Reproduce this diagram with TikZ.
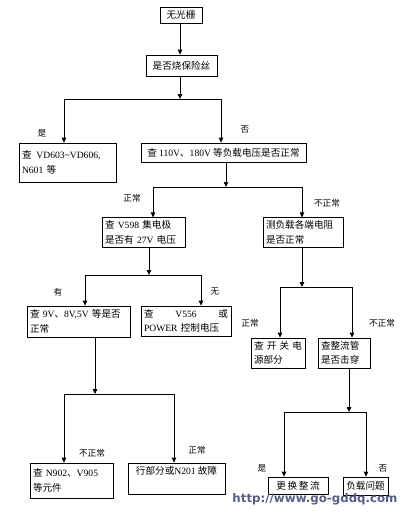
\documentclass[tikz,border=0pt]{standalone}
\usepackage{fontspec}
\setmainfont{Noto Sans CJK SC}
\newfontfamily\tm{Liberation Serif}
\newfontfamily\wm{DejaVu Sans}
\usetikzlibrary{arrows.meta}
\definecolor{wmcol}{RGB}{85,95,135}
\begin{document}
\begin{tikzpicture}[x=1pt,y=-1pt,
  box/.style={draw,line width=0.8pt,rectangle,inner sep=3pt,align=left,
    font=\fontsize{9.6}{14.5}\selectfont},
  lbl/.style={font=\fontsize{8.6}{10}\selectfont,inner sep=0pt},
  arr/.style={line width=0.8pt,-{Triangle[length=5pt,width=4.5pt]}},
  ln/.style={line width=0.8pt}]
\useasboundingbox (0,0) rectangle (409,514);
\fill[white] (0,0) rectangle (409,514);
% boxes
\node[box,minimum width=42pt,minimum height=16pt,align=center] (b1) at (181,15) {无光栅};
\node[box,minimum width=71pt,minimum height=21pt,align=center] (b2) at (181.5,65.5) {是否烧保险丝};
\node[box,minimum width=97pt,minimum height=39pt,text width=91pt] (b3) at (67.5,162.5) {查\enspace{\tm VD603\textasciitilde VD606,}\\{\tm N601} 等};
\node[box,minimum width=165pt,minimum height=19pt,align=center] (b4) at (223.5,152.5) {查 {\tm 110V}、{\tm 180V} 等负载电压是否正常};
\node[box,minimum width=83pt,minimum height=29pt,text width=77pt] (b5) at (143.5,232.5) {查 {\tm V598} 集电极\\是否有 {\tm 27V} 电压};
\node[box,minimum width=80pt,minimum height=29pt,text width=74pt] (b6) at (303,232.5) {测负载各端电阻\\是否正常};
\node[box,minimum width=103pt,minimum height=31pt,text width=97pt] (b7) at (78.5,321.5) {查 {\tm 9V}、{\tm 8V,5V} 等是否\\正常};
\node[box,minimum width=90pt,minimum height=30pt,text width=84pt] (b8) at (186,321) {查\hfill{\tm V556}\hfill 或\\{\tm POWER} 控制电压};
\node[box,minimum width=54pt,minimum height=30pt,text width=48pt] (b9) at (278,353) {查\hfill 开\hfill 关\hfill 电\\源部分};
\node[box,minimum width=52pt,minimum height=30pt,text width=46pt] (b10) at (344,353) {查整流管\\是否击穿};
\node[box,minimum width=83pt,minimum height=35pt,text width=77pt] (b11) at (71.5,480.5) {查 {\tm N902}、{\tm V905}\\等元件};
\node[box,minimum width=97pt,minimum height=31pt,align=center] (b12) at (176.5,478.5) {行部分或{\tm N201} 故障\\[-2pt]\strut};
\node[box,minimum width=60pt,minimum height=17pt,align=center] (b13) at (298,485.5) {更\,换\,整\,流};
\node[box,minimum width=45pt,minimum height=18pt,align=center] (b14) at (365.5,486) {负载问题};
% junction coordinates
\coordinate (j1) at (180,99);
\coordinate (j2) at (226,187);
\coordinate (j3) at (149,275);
\coordinate (j4) at (302,287);
\coordinate (j5) at (95,394);
\coordinate (j6) at (349,412);
% connectors
\draw[arr] (b1.south -| j1) -- (b2.north -| j1);
\draw[arr] (b2.south -| j1) -- (j1);
\draw[ln] (64,99) coordinate (j1l) -- (221,99) coordinate (j1r);
\draw[arr] (j1l) -- (j1l |- b3.north);
\draw[arr] (j1r) -- (j1r |- b4.north);
\draw[arr] (b4.south -| j2) -- (j2);
\draw[ln] (153,187) coordinate (j2l) -- (302,187) coordinate (j2r);
\draw[arr] (j2l) -- (j2l |- b5.north);
\draw[arr] (j2r) -- (j2r |- b6.north);
\draw[arr] (b5.south -| j3) -- (j3);
\draw[ln] (85,275) coordinate (j3l) -- (201,275) coordinate (j3r);
\draw[arr] (j3l) -- (j3l |- b7.north);
\draw[arr] (j3r) -- (j3r |- b8.north);
\draw[arr] (b6.south -| j4) -- (j4);
\draw[ln] (280,287) coordinate (j4l) -- (352,287) coordinate (j4r);
\draw[arr] (j4l) -- (j4l |- b9.north);
\draw[arr] (j4r) -- (j4r |- b10.north);
\draw[arr] (b7.south -| j5) -- (j5);
\draw[ln] (64,394) coordinate (j5l) -- (174,394) coordinate (j5r);
\draw[arr] (j5l) -- (j5l |- b11.north);
\draw[arr] (j5r) -- (j5r |- b12.north);
\draw[arr] (b10.south -| j6) -- (j6);
\draw[ln] (284,412) coordinate (j6l) -- (366,412) coordinate (j6r);
\draw[arr] (j6l) -- (j6l |- b13.north);
\draw[arr] (j6r) -- (j6r |- b14.north);
% labels
\node[lbl] (l1) at (42,133) {是};
\node[lbl] (l2) at (245,129) {否};
\node[lbl] (l3) at (132,198) {正常};
\node[lbl] (l4) at (327,203) {不正常};
\node[lbl] (l5) at (58,292) {有};
\node[lbl] (l6) at (215,292) {无};
\node[lbl] (l7) at (250,323) {正常};
\node[lbl] (l8) at (382,323) {不正常};
\node[lbl] (l9) at (92,453) {不正常};
\node[lbl] (l10) at (197,450) {正常};
\node[lbl] (l11) at (262,468) {是};
\node[lbl] (l12) at (383,468) {否};
% watermark
\node[inner sep=0pt,text=wmcol,font=\wm\bfseries\fontsize{11.8}{13}\selectfont] (wm) at (315,499) {http://www.go-gddq.com};
\end{tikzpicture}
\end{document}
